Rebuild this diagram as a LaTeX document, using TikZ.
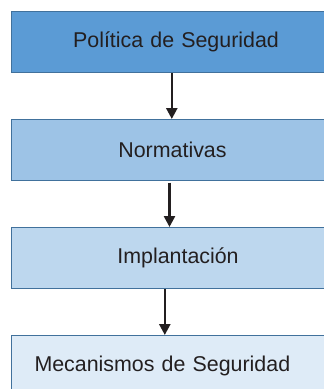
\documentclass[tikz,border=0pt]{standalone}
\usepackage{fontspec}
\setmainfont{Liberation Sans}
\usepackage{tikz}
\usetikzlibrary{arrows.meta}
\definecolor{borde}{HTML}{41719C}
\definecolor{azulA}{HTML}{5B9BD5}
\definecolor{azulB}{HTML}{9DC3E6}
\definecolor{azulC}{HTML}{BDD7EE}
\definecolor{azulD}{HTML}{DEEBF7}
\definecolor{tinta}{HTML}{231F20}
\tikzset{
  paso/.style = {draw=borde, line width=1pt, anchor=north west, minimum height=61pt,
    inner xsep=0pt, text=tinta, font=\fontsize{21.4}{25}\selectfont},
  flecha/.style = {-{Triangle[length=11pt,width=11pt]}, line width=2.5pt, draw=tinta}
}

\begin{document}
\begin{tikzpicture}[x=1pt,y=-1pt]
\useasboundingbox (0,0) rectangle (324,389);
\clip (0,0) rectangle (324,389);
\node[paso, fill=azulA, text width=329pt, align=center] (politica) at (11,11) {Política de Seguridad};
\node[paso, fill=azulB, text width=322pt, align=center] (normativas) at (11,119) {Normativas};
\node[paso, fill=azulC, text width=333pt, align=center] (implantacion) at (11,227) {Implantación};
\node[paso, fill=azulD, text width=300pt, align=left, inner xsep=23pt] (mecanismos) at (11,335) {Mecanismos de Seguridad};
\draw[flecha] ([xshift=-4.2pt]politica.south) -- ([xshift=-0.7pt]normativas.north);
\draw[flecha] ([xshift=-3pt,yshift=-1.5pt]normativas.south) -- ([xshift=-8.5pt]implantacion.north);
\draw[flecha] ([xshift=-13.2pt]implantacion.south) -- ([xshift=-19.7pt]mecanismos.north);
\end{tikzpicture}
\end{document}
